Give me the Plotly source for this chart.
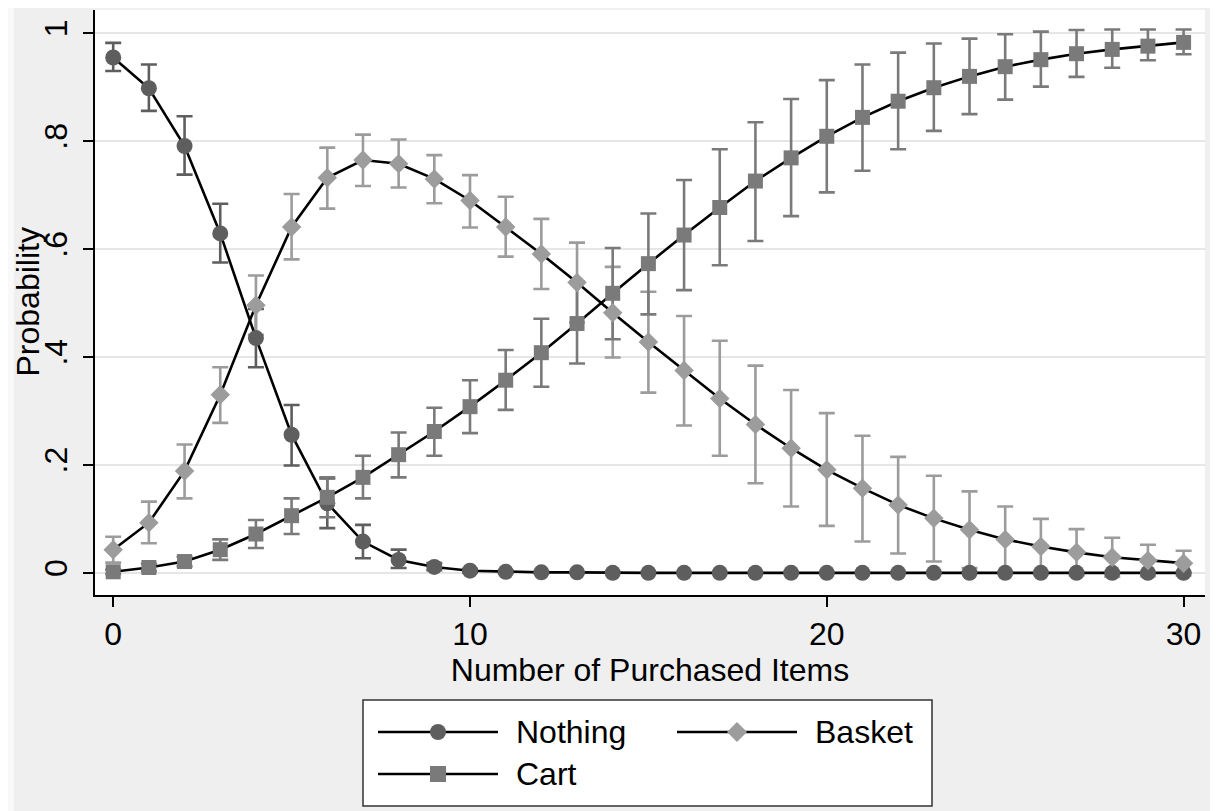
import plotly.graph_objects as go

items = list(range(31))

nothing = [0.955, 0.898, 0.791, 0.629, 0.435, 0.256, 0.129, 0.058, 0.024, 0.011, 0.004,
           0.002, 0.001, 0.001, 0.0, 0.0, 0.0, 0.0, 0.0, 0.0, 0.0,
           0.0, 0.0, 0.0, 0.0, 0.0, 0.0, 0.0, 0.0, 0.0, 0.0]
nothing_lo = [0.930, 0.856, 0.738, 0.575, 0.381, 0.199, 0.083, 0.027, 0.009, 0.005, 0.001,
              0.0, 0.0, 0.0, 0.0, 0.0, 0.0, 0.0, 0.0, 0.0, 0.0,
              0.0, 0.0, 0.0, 0.0, 0.0, 0.0, 0.0, 0.0, 0.0, 0.0]
nothing_hi = [0.982, 0.942, 0.846, 0.684, 0.489, 0.311, 0.175, 0.089, 0.043, 0.018, 0.007,
              0.004, 0.002, 0.001, 0.0, 0.0, 0.0, 0.0, 0.0, 0.0, 0.0,
              0.0, 0.0, 0.0, 0.0, 0.0, 0.0, 0.0, 0.0, 0.0, 0.0]

basket = [0.043, 0.093, 0.189, 0.330, 0.496, 0.641, 0.732, 0.765, 0.758, 0.730, 0.690,
          0.641, 0.591, 0.538, 0.482, 0.428, 0.375, 0.323, 0.275, 0.231, 0.191,
          0.157, 0.126, 0.101, 0.080, 0.062, 0.049, 0.038, 0.029, 0.023, 0.018]
basket_lo = [0.019, 0.055, 0.138, 0.278, 0.441, 0.581, 0.675, 0.717, 0.714, 0.685, 0.640,
             0.586, 0.526, 0.464, 0.399, 0.334, 0.273, 0.217, 0.166, 0.123, 0.087,
             0.058, 0.036, 0.021, 0.009, 0.001, -0.002, -0.005, -0.007, -0.006, -0.005]
basket_hi = [0.067, 0.132, 0.238, 0.381, 0.551, 0.702, 0.788, 0.812, 0.803, 0.774, 0.737,
             0.697, 0.656, 0.612, 0.567, 0.521, 0.476, 0.430, 0.384, 0.339, 0.296,
             0.254, 0.215, 0.180, 0.151, 0.123, 0.100, 0.081, 0.065, 0.052, 0.041]

cart = [0.002, 0.010, 0.021, 0.043, 0.072, 0.106, 0.140, 0.177, 0.219, 0.262, 0.308,
        0.357, 0.408, 0.462, 0.518, 0.573, 0.626, 0.677, 0.726, 0.769, 0.809,
        0.844, 0.874, 0.899, 0.920, 0.938, 0.951, 0.962, 0.970, 0.976, 0.983]
cart_lo = [-0.002, 0.003, 0.012, 0.024, 0.046, 0.072, 0.103, 0.138, 0.177, 0.217, 0.259,
           0.302, 0.345, 0.388, 0.433, 0.479, 0.524, 0.570, 0.615, 0.661, 0.705,
           0.745, 0.785, 0.819, 0.850, 0.877, 0.901, 0.919, 0.936, 0.950, 0.961]
cart_hi = [0.006, 0.017, 0.030, 0.062, 0.098, 0.138, 0.177, 0.217, 0.260, 0.306, 0.357,
           0.413, 0.471, 0.540, 0.602, 0.666, 0.728, 0.785, 0.835, 0.878, 0.913,
           0.942, 0.964, 0.981, 0.990, 0.998, 1.003, 1.006, 1.007, 1.007, 1.007]

y_ticks = [0, 0.2, 0.4, 0.6, 0.8, 1]
y_ticklabels = ["0", ".2", ".4", ".6", ".8", "1"]
x_ticks = [0, 10, 20, 30]
x_ticklabels = ["0", "10", "20", "30"]

series_names = ["Nothing", "Basket", "Cart"]

FONT = "Liberation Sans, Arial, Helvetica, sans-serif"
FS = 32
W, H = 1218, 811
OFF = 8  # page body margin
ML, MR, MT, MB = 87, 21, 2, 224
PW, PH = W - ML - MR, H - MT - MB

C_NOTHING = "#5e5e5e"
C_BASKET = "#9c9c9c"
C_CART = "#7a7a7a"

def px(xp):
    return (xp - OFF - ML) / PW

def py(yp):
    return (H - MB - (yp - OFF)) / PH

fig = go.Figure()

specs = [
    (nothing, nothing_lo, nothing_hi, C_NOTHING, "circle", 16),
    (basket, basket_lo, basket_hi, C_BASKET, "diamond", 15),
    (cart, cart_lo, cart_hi, C_CART, "square", 15),
]

# error bars first (underneath)
for (vals, lo, hi, col, sym, sz), name in zip(specs, series_names):
    fig.add_trace(go.Scatter(
        x=items, y=vals, mode="markers", name=name + " CI",
        marker=dict(size=1, color="rgba(0,0,0,0)"),
        error_y=dict(type="data", symmetric=False,
                     array=[h - v for h, v in zip(hi, vals)],
                     arrayminus=[v - l for v, l in zip(vals, lo)],
                     color=col, thickness=2.6, width=8),
        showlegend=False, hoverinfo="skip"))

for (vals, lo, hi, col, sym, sz), name in zip(specs, series_names):
    fig.add_trace(go.Scatter(
        x=items, y=vals, mode="lines+markers", name=name,
        line=dict(color="black", width=2.6),
        marker=dict(symbol=sym, size=sz, color=col, line=dict(width=0)),
        showlegend=False))

shapes = []
# light strip on the far left
shapes.append(dict(type="rect", xref="paper", yref="paper", layer="below",
                   x0=px(OFF - 2), x1=px(14), y0=py(H + 20), y1=py(0),
                   fillcolor="#f9f9f9", line=dict(width=0)))

# manual legend
shapes.append(dict(type="rect", xref="paper", yref="paper",
                   x0=px(363), x1=px(932), y0=py(806), y1=py(700),
                   fillcolor="white", line=dict(color="#333333", width=1.5)))

annotations = []
legend_rows = [
    ("Nothing", C_NOTHING, "circle", 378, 732),
    ("Basket", C_BASKET, "diamond", 677, 732),
    ("Cart", C_CART, "square", 378, 774),
]
for name, col, sym, x0, yc in legend_rows:
    shapes.append(dict(type="line", xref="paper", yref="paper",
                       x0=px(x0), x1=px(x0 + 120), y0=py(yc), y1=py(yc),
                       line=dict(color="black", width=2.4)))
    cx = x0 + 60
    if sym == "circle":
        r = 8
        shapes.append(dict(type="circle", xref="paper", yref="paper",
                           x0=px(cx - r), x1=px(cx + r), y0=py(yc + r), y1=py(yc - r),
                           fillcolor=col, line=dict(width=0)))
    elif sym == "square":
        r = 8
        shapes.append(dict(type="rect", xref="paper", yref="paper",
                           x0=px(cx - r), x1=px(cx + r), y0=py(yc + r), y1=py(yc - r),
                           fillcolor=col, line=dict(width=0)))
    else:
        r = 10
        path = "M {:.5f},{:.5f} L {:.5f},{:.5f} L {:.5f},{:.5f} L {:.5f},{:.5f} Z".format(
            px(cx - r), py(yc), px(cx), py(yc - r), px(cx + r), py(yc), px(cx), py(yc + r))
        shapes.append(dict(type="path", xref="paper", yref="paper", path=path,
                           fillcolor=col, line=dict(width=0)))
    annotations.append(dict(xref="paper", yref="paper", x=px(x0 + 136), y=py(yc),
                            text=name, showarrow=False, xanchor="left", yanchor="middle",
                            font=dict(family=FONT, size=FS, color="black")))

# y axis title
annotations.append(dict(xref="paper", yref="paper", x=px(27), y=0.5,
                        text="Probability", textangle=-90, showarrow=False,
                        xanchor="center", yanchor="middle",
                        font=dict(family=FONT, size=FS, color="black")))

fig.update_layout(
    width=W, height=H,
    margin=dict(l=ML, r=MR, t=MT, b=MB),
    paper_bgcolor="#efefef",
    plot_bgcolor="white",
    font=dict(family=FONT, size=FS, color="black"),
    showlegend=False,
    shapes=shapes,
    annotations=annotations,
    xaxis=dict(
        range=[-0.51, 30.6], tickvals=x_ticks, ticktext=x_ticklabels,
        ticks="outside", ticklen=10, tickwidth=1.5, tickcolor="black",
        showline=True, linecolor="black", linewidth=1.5, showgrid=False, zeroline=False,
        title=dict(text="Number of Purchased Items", font=dict(size=FS), standoff=2),
        tickfont=dict(size=FS),
    ),
    yaxis=dict(
        range=[-0.041, 1.043], tickvals=y_ticks, ticktext=y_ticklabels,
        ticks="outside", ticklen=10, tickwidth=1.5, tickcolor="black", tickangle=-90,
        ticklabelstandoff=3,
        showline=True, linecolor="black", linewidth=1.5,
        showgrid=True, gridcolor="#e6e6e6", gridwidth=2, zeroline=False,
        tickfont=dict(size=FS),
    ),
)

fig.write_html("out.html")
